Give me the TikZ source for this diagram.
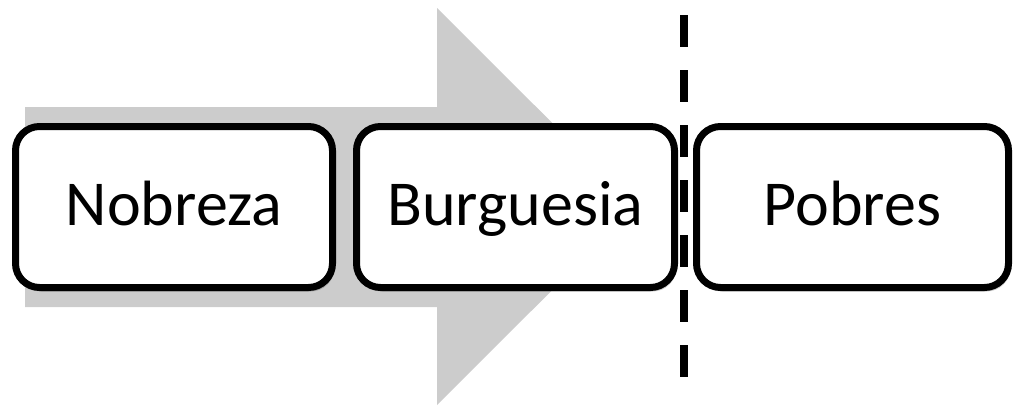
\documentclass[tikz,border=0pt]{standalone}
\usepackage{fontspec}
\setmainfont{Carlito}
\usetikzlibrary{shadows}
\definecolor{arrowgray}{HTML}{CCCCCC}
\tikzset{
  stage/.style={draw=black, line width=7pt, fill=white, rounded corners=24pt,
    minimum height=161pt, inner sep=0pt, text height=46pt, text depth=10pt,
    font=\fontsize{64}{72}\selectfont,
    drop shadow={shadow xshift=2pt, shadow yshift=-4pt, opacity=0.2, fill=black}},
  bigarrow/.style={fill=arrowgray, draw=none},
  divider/.style={line width=8pt, dash pattern=on 32pt off 23pt}
}
\begin{document}
\begin{tikzpicture}[x=1pt, y=-1pt]
\useasboundingbox (0,0) rectangle (1014,407);
% large background arrow
\fill[bigarrow] (25,107) -- (437,107) -- (437,8) -- (636,206.5) -- (437,405) -- (437,307) -- (25,307) -- cycle;
% stages
\node[stage, minimum width=317pt] (nob) at (174,207) {Nobreza};
\node[stage, minimum width=318pt] (bur) at (515.5,207) {Burguesia};
\node[stage, minimum width=312pt] (pob) at (852.5,207) {Pobres};
% dashed divider
\coordinate (dtop) at (684,15);
\coordinate (dbot) at (684,378);
\draw[divider] (dtop) -- (dbot);
\end{tikzpicture}
\end{document}
